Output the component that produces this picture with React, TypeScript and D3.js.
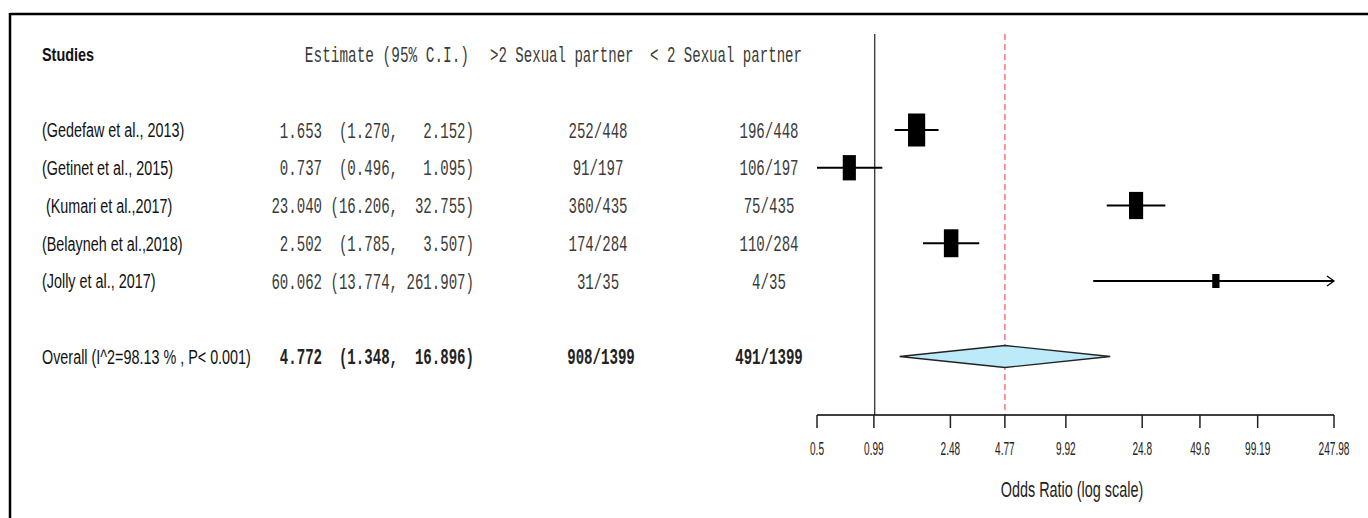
import React from "react";
import * as d3 from "d3";

const studies = [
  "(Gedefaw et al., 2013)",
  "(Getinet et al., 2015)",
  " (Kumari et al.,2017)",
  "(Belayneh et al.,2018)",
  "(Jolly et al., 2017)",
];
const estimates = [1.653, 0.737, 23.04, 2.502, 60.062];
const ciLower = [1.27, 0.496, 16.206, 1.785, 13.774];
const ciUpper = [2.152, 1.095, 32.755, 3.507, 261.907];
const moreThan2 = ["252/448", "91/197", "360/435", "174/284", "31/35"];
const lessThan2 = ["196/448", "106/197", "75/435", "110/284", "4/35"];

const overallLabel = "Overall (I^2=98.13 % , P< 0.001)";
const overallEst = 4.772;
const overallLower = 1.348;
const overallUpper = 16.896;
const overallMore = "908/1399";
const overallLess = "491/1399";

const headers = ["Studies", "Estimate (95% C.I.)", ">2 Sexual partner", "< 2 Sexual partner"];
const xTicks = [0.5, 0.99, 2.48, 4.77, 9.92, 24.8, 49.6, 99.19, 247.98];
const xTickLabels = ["0.5", "0.99", "2.48", "4.77", "9.92", "24.8", "49.6", "99.19", "247.98"];
const axisTitle = "Odds Ratio (log scale)";

const SANS = "'Liberation Sans', Arial, sans-serif";
const MONO = "'Liberation Mono', 'Courier New', monospace";
const MONO_COLOR = "#3a3a3a";

function ciString(est: number, lb: number, ub: number) {
  const e = est.toFixed(3).padStart(6, " ");
  const l = ("(" + lb.toFixed(3)).padStart(7, " ");
  const u = (ub.toFixed(3) + ")").padStart(9, " ");
  return `${e} ${l},${u}`;
}

function T(props: {
  x: number;
  y: number;
  s: number;
  size: number;
  family: string;
  anchor?: string;
  weight?: string | number;
  fill?: string;
  children: React.ReactNode;
}) {
  const { x, y, s, size, family, anchor = "start", weight = "normal", fill = "#111", children } = props;
  return (
    <text
      transform={`translate(${x},${y}) scale(${s},1)`}
      textAnchor={anchor}
      dy="0.35em"
      fontFamily={family}
      fontSize={size}
      fontWeight={weight}
      fill={fill}
      xmlSpace="preserve"
      style={{ whiteSpace: "pre" }}
    >
      {children}
    </text>
  );
}

export default function App() {
  const W = 1368;
  const H = 518;
  const x = d3.scaleLog().domain([0.5, 247.98]).range([817, 1334]);
  const y = d3.scaleLinear().domain([0, 6]).range([130, 356.5]);
  const headerY = y(-2);
  const axisY = 415;
  const [xMin, xMax] = x.range();

  // box size from precision (1/se derived from CI)
  const prec = ciLower.map((lb, i) => 3.92 / (Math.log(ciUpper[i]) - Math.log(lb)));
  const boxH = d3
    .scaleLinear()
    .domain([d3.min(prec) as number, d3.max(prec) as number])
    .range([14, 33]);

  const diamond = [
    [x(overallLower), y(6)],
    [x(overallEst), y(6) - 11],
    [x(overallUpper), y(6)],
    [x(overallEst), y(6) + 11],
  ];

  const sansSize = 21;
  const sansS = 0.685;
  const monoSize = 22;
  const monoS = 0.64;

  return (
    <svg
      width={W}
      height={H}
      style={{ position: "absolute", left: 0, top: 0, background: "#fff" }}
    >
      <rect x={0} y={0} width={W} height={H} fill="#fff" />
      {/* frame */}
      <line x1={10} x2={W} y1={14} y2={14} stroke="#000" strokeWidth={2.5} />
      <line x1={10} x2={10} y1={13} y2={H} stroke="#000" strokeWidth={2.5} />

      {/* headers */}
      <T x={42} y={headerY} s={0.76} size={19} family={SANS} weight="bold">
        {headers[0]}
      </T>
      <T x={469} y={headerY} s={0.655} size={monoSize} family={MONO} anchor="end" fill={MONO_COLOR}>
        {headers[1]}
      </T>
      <T x={490} y={headerY} s={monoS} size={monoSize} family={MONO} fill={MONO_COLOR}>
        {headers[2]}
      </T>
      <T x={650} y={headerY} s={monoS} size={monoSize} family={MONO} fill={MONO_COLOR}>
        {headers[3]}
      </T>

      {/* study rows */}
      {studies.map((s, i) => (
        <g key={"row" + i}>
          <T x={42} y={y(i)} s={sansS} size={sansSize} family={SANS}>
            {s}
          </T>
          <T x={474} y={y(i)} s={monoS} size={monoSize} family={MONO} anchor="end" fill={MONO_COLOR}>
            {ciString(estimates[i], ciLower[i], ciUpper[i])}
          </T>
          <T x={598} y={y(i)} s={monoS} size={monoSize} family={MONO} anchor="middle" fill={MONO_COLOR}>
            {moreThan2[i]}
          </T>
          <T x={769} y={y(i)} s={monoS} size={monoSize} family={MONO} anchor="middle" fill={MONO_COLOR}>
            {lessThan2[i]}
          </T>
        </g>
      ))}

      {/* overall row */}
      <T x={42} y={y(6)} s={sansS} size={sansSize} family={SANS}>
        {overallLabel}
      </T>
      <T x={474} y={y(6)} s={monoS} size={monoSize} family={MONO} anchor="end" weight="bold" fill="#222">
        {ciString(overallEst, overallLower, overallUpper)}
      </T>
      <T x={601} y={y(6)} s={monoS} size={monoSize} family={MONO} anchor="middle" weight="bold" fill="#222">
        {overallMore}
      </T>
      <T x={769} y={y(6)} s={monoS} size={monoSize} family={MONO} anchor="middle" weight="bold" fill="#222">
        {overallLess}
      </T>

      {/* reference lines */}
      <line x1={x(1)} x2={x(1)} y1={34} y2={axisY} stroke="#222" strokeWidth={1.2} />
      <line
        x1={x(overallEst)}
        x2={x(overallEst)}
        y1={34}
        y2={axisY}
        stroke="#f47a7a"
        strokeWidth={1.5}
        strokeDasharray="6,4"
      />

      {/* CIs and boxes */}
      {estimates.map((e, i) => {
        const lo = Math.max(ciLower[i], 0.5);
        const hiClipped = ciUpper[i] > 247.98;
        const x1 = x(lo);
        const x2 = hiClipped ? xMax : x(ciUpper[i]);
        const h = boxH(prec[i]);
        const w = h * 0.52;
        const cy = y(i);
        return (
          <g key={"ci" + i}>
            <line x1={x1} x2={x2} y1={cy} y2={cy} stroke="#000" strokeWidth={2} />
            {hiClipped && (
              <path
                d={`M${x2 - 7},${cy - 5} L${x2},${cy} L${x2 - 7},${cy + 5}`}
                fill="none"
                stroke="#000"
                strokeWidth={1.3}
              />
            )}
            <rect x={x(e) - w / 2} y={cy - h / 2} width={w} height={h} fill="#000" />
          </g>
        );
      })}

      {/* overall diamond */}
      <polygon
        points={diamond.map((p) => p.join(",")).join(" ")}
        fill="#bdeaf8"
        stroke="#222"
        strokeWidth={1.3}
      />

      {/* axis */}
      <line x1={xMin} x2={xMax} y1={axisY} y2={axisY} stroke="#000" strokeWidth={1.5} />
      {xTicks.map((t, i) => (
        <g key={"t" + i}>
          <line x1={x(t)} x2={x(t)} y1={axisY} y2={axisY + 13} stroke="#222" strokeWidth={1.5} />
          <T x={x(t)} y={449} s={0.56} size={18} family={SANS} anchor="middle" fill="#222">
            {xTickLabels[i]}
          </T>
        </g>
      ))}
      <T x={1072} y={489} s={0.655} size={22} family={SANS} anchor="middle" fill="#222">
        {axisTitle}
      </T>
    </svg>
  );
}
